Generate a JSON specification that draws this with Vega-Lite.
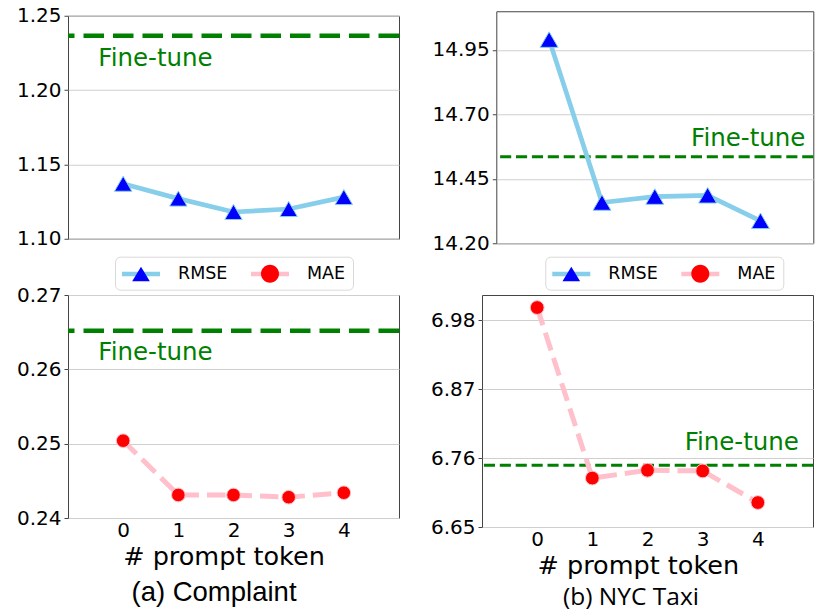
{
  "$schema": "https://vega.github.io/schema/vega-lite/v6.json",
  "padding": {"left": 15, "top": 5, "right": 5, "bottom": 5},
  "config": {
    "font": "DejaVu Sans",
    "view": {"stroke": "#444444", "strokeWidth": 1},
    "axis": {"domain": false, "gridColor": "#cfcfcf", "gridWidth": 1, "tickColor": "#444444", "tickSize": 4, "tickWidth": 1, "labelFont": "DejaVu Sans", "labelFontSize": 20, "labelColor": "#000000", "labelPadding": 3, "labelFlush": false, "titleFont": "DejaVu Sans", "titleFontSize": 25.5, "titleFontWeight": "normal", "titleColor": "#000000"}
  },
  "datasets": {
    "complaint": [
      {"k": 0, "rmse": 1.137, "mae": 0.2504},
      {"k": 1, "rmse": 1.127, "mae": 0.2431},
      {"k": 2, "rmse": 1.118, "mae": 0.2431},
      {"k": 3, "rmse": 1.120, "mae": 0.2428},
      {"k": 4, "rmse": 1.128, "mae": 0.2434}
    ],
    "taxi": [
      {"k": 0, "rmse": 14.99, "mae": 7.000},
      {"k": 1, "rmse": 14.358, "mae": 6.728},
      {"k": 2, "rmse": 14.381, "mae": 6.7405},
      {"k": 3, "rmse": 14.386, "mae": 6.7394},
      {"k": 4, "rmse": 14.287, "mae": 6.689}
    ],
    "complaint_ft": [{"rmse": 1.2365, "mae": 0.2652, "label": "Fine-tune"}],
    "taxi_ft": [{"rmse": 14.536, "mae": 6.7485, "label": "Fine-tune"}],
    "legend": [{"metric": "RMSE"}, {"metric": "MAE"}]
  },
  "spacing": 1,
  "resolve": {"scale": {"color": "independent", "fill": "independent", "shape": "independent"}, "legend": {"color": "independent", "fill": "independent", "shape": "independent"}},
  "vconcat": [
    {
      "spacing": 29.3,
      "center": true,
      "resolve": {"scale": {"color": "independent", "fill": "independent", "shape": "independent"}, "legend": {"color": "independent", "fill": "independent", "shape": "independent"}},
      "hconcat": [
        {
          "width": 331, "height": 223,
          "layer": [
            {"data": {"name": "complaint_ft"}, "mark": {"type": "rule", "color": "#008000", "strokeWidth": 4.5, "strokeDash": [20.5, 9]},
             "encoding": {"y": {"field": "rmse", "type": "quantitative", "title": null, "scale": {"domain": [1.1, 1.25], "nice": false, "zero": false}, "axis": {"values": [1.1, 1.15, 1.2, 1.25], "format": ".2f", "title": null}}}},
            {"data": {"name": "complaint_ft"}, "mark": {"type": "text", "align": "left", "baseline": "alphabetic", "dy": 30, "font": "DejaVu Sans", "fontSize": 24.5, "color": "#008000"},
             "encoding": {"x": {"datum": -0.45, "type": "quantitative"}, "y": {"field": "rmse", "type": "quantitative", "title": null}, "text": {"field": "label"}}},
            {"data": {"name": "complaint"}, "mark": {"type": "line", "color": "#87CEEB", "strokeWidth": 4.7},
             "encoding": {"x": {"field": "k", "type": "quantitative", "title": null, "scale": {"domain": [-1, 5], "nice": false, "zero": false}, "axis": {"values": [0, 1, 2, 3, 4], "labels": false, "ticks": false, "title": null}}, "y": {"field": "rmse", "type": "quantitative", "title": null}}},
            {"data": {"name": "complaint"}, "mark": {"type": "point", "shape": "triangle-up", "filled": true, "fill": "#0000FF", "stroke": "#87CEEB", "strokeWidth": 1, "size": 300, "opacity": 1},
             "encoding": {"x": {"field": "k", "type": "quantitative", "title": null}, "y": {"field": "rmse", "type": "quantitative", "title": null}}}
          ]
        },
        {
          "width": 317, "height": 232,
          "title": {"text": " ", "fontSize": 5, "offset": 0.7},
          "layer": [
            {"data": {"name": "taxi_ft"}, "mark": {"type": "rule", "color": "#008000", "strokeWidth": 3, "strokeDash": [11.1, 4.8]},
             "encoding": {"y": {"field": "rmse", "type": "quantitative", "title": null, "scale": {"domain": [14.2, 15.1], "nice": false, "zero": false}, "axis": {"values": [14.2, 14.45, 14.7, 14.95], "format": ".2f", "title": null}}}},
            {"data": {"name": "taxi_ft"}, "mark": {"type": "text", "align": "right", "baseline": "alphabetic", "dy": -10.7, "font": "DejaVu Sans", "fontSize": 24.5, "color": "#008000"},
             "encoding": {"x": {"datum": 4.85, "type": "quantitative"}, "y": {"field": "rmse", "type": "quantitative", "title": null}, "text": {"field": "label"}}},
            {"data": {"name": "taxi"}, "mark": {"type": "line", "color": "#87CEEB", "strokeWidth": 4.7},
             "encoding": {"x": {"field": "k", "type": "quantitative", "scale": {"domain": [-1, 5], "nice": false, "zero": false}, "axis": {"values": [0, 1, 2, 3, 4], "labels": false, "ticks": false, "title": null}}, "y": {"field": "rmse", "type": "quantitative", "title": null}}},
            {"data": {"name": "taxi"}, "mark": {"type": "point", "shape": "triangle-up", "filled": true, "fill": "#0000FF", "stroke": "#87CEEB", "strokeWidth": 1, "size": 320, "opacity": 1},
             "encoding": {"x": {"field": "k", "type": "quantitative"}, "y": {"field": "rmse", "type": "quantitative", "title": null}}}
          ]
        }
      ]
    },
    {
      "spacing": 27,
      "resolve": {"scale": {"color": "independent", "fill": "independent", "shape": "independent"}, "legend": {"color": "independent", "fill": "independent", "shape": "independent"}},
      "hconcat": [
        {
          "width": 331, "height": 223,
          "title": {"text": "(a) Complaint", "orient": "bottom", "anchor": "middle", "dx": -19.5, "offset": 9, "font": "Liberation Sans", "fontSize": 27.5, "fontWeight": "normal", "color": "#000000"},
          "layer": [
            {"data": {"name": "complaint_ft"}, "mark": {"type": "rule", "color": "#008000", "strokeWidth": 4.5, "strokeDash": [20.5, 9]},
             "encoding": {"y": {"field": "mae", "type": "quantitative", "title": null, "scale": {"domain": [0.24, 0.27], "nice": false, "zero": false}, "axis": {"values": [0.24, 0.25, 0.26, 0.27], "format": ".2f", "title": null}}}},
            {"data": {"name": "complaint_ft"}, "mark": {"type": "text", "align": "left", "baseline": "alphabetic", "dy": 29, "font": "DejaVu Sans", "fontSize": 24.5, "color": "#008000"},
             "encoding": {"x": {"datum": -0.45, "type": "quantitative"}, "y": {"field": "mae", "type": "quantitative", "title": null}, "text": {"field": "label"}}},
            {"data": {"name": "complaint"}, "mark": {"type": "line", "color": "#FFC0CB", "strokeWidth": 5, "strokeDash": [18.5, 8]},
             "encoding": {"x": {"field": "k", "type": "quantitative", "scale": {"domain": [-1, 5], "nice": false, "zero": false}, "axis": {"values": [0, 1, 2, 3, 4], "format": "d", "ticks": false, "labelPadding": 2.5, "title": "# prompt token", "titlePadding": 4, "titleX": 155.5}}, "y": {"field": "mae", "type": "quantitative", "title": null}}},
            {"data": {"name": "complaint"}, "mark": {"type": "point", "shape": "circle", "filled": true, "fill": "#FF0000", "stroke": "#FFC0CB", "strokeWidth": 1, "size": 185, "opacity": 1},
             "encoding": {"x": {"field": "k", "type": "quantitative"}, "y": {"field": "mae", "type": "quantitative", "title": null}}},
            {"data": {"name": "legend"}, "transform": [{"filter": "false"}], "mark": {"type": "point", "filled": true, "opacity": 1},
             "encoding": {"color": {"field": "metric", "type": "nominal", "scale": {"domain": ["RMSE", "MAE"], "range": ["#87CEEB", "#FFC0CB"]},
               "legend": {"orient": "none", "legendX": 47, "legendY": -38.3, "direction": "horizontal", "title": null, "symbolType": "M-1,-0.23L2.8,-0.23L2.8,0.23L-1,0.23Z", "symbolSize": 400, "symbolStrokeWidth": 0, "symbolOpacity": 1, "labelFont": "DejaVu Sans", "labelFontSize": 17.5, "labelColor": "#000000", "labelOffset": 36, "columnPadding": 23, "padding": 7, "cornerRadius": 5, "strokeColor": "#d9d9d9", "fillColor": "#ffffff"}}}},
            {"data": {"name": "legend"}, "transform": [{"filter": "false"}], "mark": {"type": "point", "filled": true, "opacity": 1},
             "encoding": {
               "fill": {"field": "metric", "type": "nominal", "scale": {"domain": ["RMSE ", "MAE "], "range": ["#0000FF", "#FF0000"]},
                 "legend": {"orient": "none", "legendX": 47, "legendY": -38.3, "direction": "horizontal", "title": null, "symbolSize": 400, "symbolStrokeWidth": 0, "symbolOpacity": 1, "labelFont": "DejaVu Sans", "labelFontSize": 17.5, "labelColor": "transparent", "labelExpr": "trim(datum.label)", "labelOffset": 36, "columnPadding": 23, "padding": 7}},
               "shape": {"field": "metric", "type": "nominal", "scale": {"domain": ["RMSE ", "MAE "], "range": ["M-1,0L2.8,0M0.9,-0.72L1.78,0.72L0.02,0.72Z", "M-1,0L2.8,0M0,0A0.9,0.9,0,1,0,1.8,0A0.9,0.9,0,1,0,0,0Z"]},
                 "legend": {"orient": "none", "legendX": 47, "legendY": -38.3, "direction": "horizontal", "title": null, "symbolSize": 400, "symbolStrokeWidth": 0, "symbolOpacity": 1, "labelFont": "DejaVu Sans", "labelFontSize": 17.5, "labelColor": "transparent", "labelExpr": "trim(datum.label)", "labelOffset": 36, "columnPadding": 23, "padding": 7}}}}
          ]
        },
        {
          "width": 331, "height": 232,
          "title": {"text": "(b) NYC Taxi", "orient": "bottom", "anchor": "middle", "dx": -16.5, "offset": 6.5, "font": "Open Sans", "fontSize": 24.5, "fontWeight": "normal", "color": "#000000"},
          "layer": [
            {"data": {"name": "taxi_ft"}, "mark": {"type": "rule", "color": "#008000", "strokeWidth": 3, "strokeDash": [11.1, 4.8]},
             "encoding": {"y": {"field": "mae", "type": "quantitative", "title": null, "scale": {"domain": [6.65, 7.02], "nice": false, "zero": false}, "axis": {"values": [6.65, 6.76, 6.87, 6.98], "format": ".2f", "title": null}}}},
            {"data": {"name": "taxi_ft"}, "mark": {"type": "text", "align": "right", "baseline": "alphabetic", "dy": -15, "font": "DejaVu Sans", "fontSize": 24.5, "color": "#008000"},
             "encoding": {"x": {"datum": 4.745, "type": "quantitative"}, "y": {"field": "mae", "type": "quantitative", "title": null}, "text": {"field": "label"}}},
            {"data": {"name": "taxi"}, "mark": {"type": "line", "color": "#FFC0CB", "strokeWidth": 5, "strokeDash": [18.5, 8]},
             "encoding": {"x": {"field": "k", "type": "quantitative", "scale": {"domain": [-1, 5], "nice": false, "zero": false}, "axis": {"values": [0, 1, 2, 3, 4], "format": "d", "ticks": false, "labelPadding": 2.5, "title": "# prompt token", "titlePadding": 4, "titleX": 155.8}}, "y": {"field": "mae", "type": "quantitative", "title": null}}},
            {"data": {"name": "taxi"}, "mark": {"type": "point", "shape": "circle", "filled": true, "fill": "#FF0000", "stroke": "#FFC0CB", "strokeWidth": 1, "size": 190, "opacity": 1},
             "encoding": {"x": {"field": "k", "type": "quantitative"}, "y": {"field": "mae", "type": "quantitative", "title": null}}},
            {"data": {"name": "legend"}, "transform": [{"filter": "false"}], "mark": {"type": "point", "filled": true, "opacity": 1},
             "encoding": {"color": {"field": "metric", "type": "nominal", "scale": {"domain": ["RMSE", "MAE"], "range": ["#87CEEB", "#FFC0CB"]},
               "legend": {"orient": "none", "legendX": 63.3, "legendY": -38.3, "direction": "horizontal", "title": null, "symbolType": "M-1,-0.23L2.8,-0.23L2.8,0.23L-1,0.23Z", "symbolSize": 400, "symbolStrokeWidth": 0, "symbolOpacity": 1, "labelFont": "DejaVu Sans", "labelFontSize": 17.5, "labelColor": "#000000", "labelOffset": 36, "columnPadding": 23, "padding": 7, "cornerRadius": 5, "strokeColor": "#d9d9d9", "fillColor": "#ffffff"}}}},
            {"data": {"name": "legend"}, "transform": [{"filter": "false"}], "mark": {"type": "point", "filled": true, "opacity": 1},
             "encoding": {
               "fill": {"field": "metric", "type": "nominal", "scale": {"domain": ["RMSE ", "MAE "], "range": ["#0000FF", "#FF0000"]},
                 "legend": {"orient": "none", "legendX": 63.3, "legendY": -38.3, "direction": "horizontal", "title": null, "symbolSize": 400, "symbolStrokeWidth": 0, "symbolOpacity": 1, "labelFont": "DejaVu Sans", "labelFontSize": 17.5, "labelColor": "transparent", "labelExpr": "trim(datum.label)", "labelOffset": 36, "columnPadding": 23, "padding": 7}},
               "shape": {"field": "metric", "type": "nominal", "scale": {"domain": ["RMSE ", "MAE "], "range": ["M-1,0L2.8,0M0.9,-0.72L1.78,0.72L0.02,0.72Z", "M-1,0L2.8,0M0,0A0.9,0.9,0,1,0,1.8,0A0.9,0.9,0,1,0,0,0Z"]},
                 "legend": {"orient": "none", "legendX": 63.3, "legendY": -38.3, "direction": "horizontal", "title": null, "symbolSize": 400, "symbolStrokeWidth": 0, "symbolOpacity": 1, "labelFont": "DejaVu Sans", "labelFontSize": 17.5, "labelColor": "transparent", "labelExpr": "trim(datum.label)", "labelOffset": 36, "columnPadding": 23, "padding": 7}}}}
          ]
        }
      ]
    }
  ]
}
